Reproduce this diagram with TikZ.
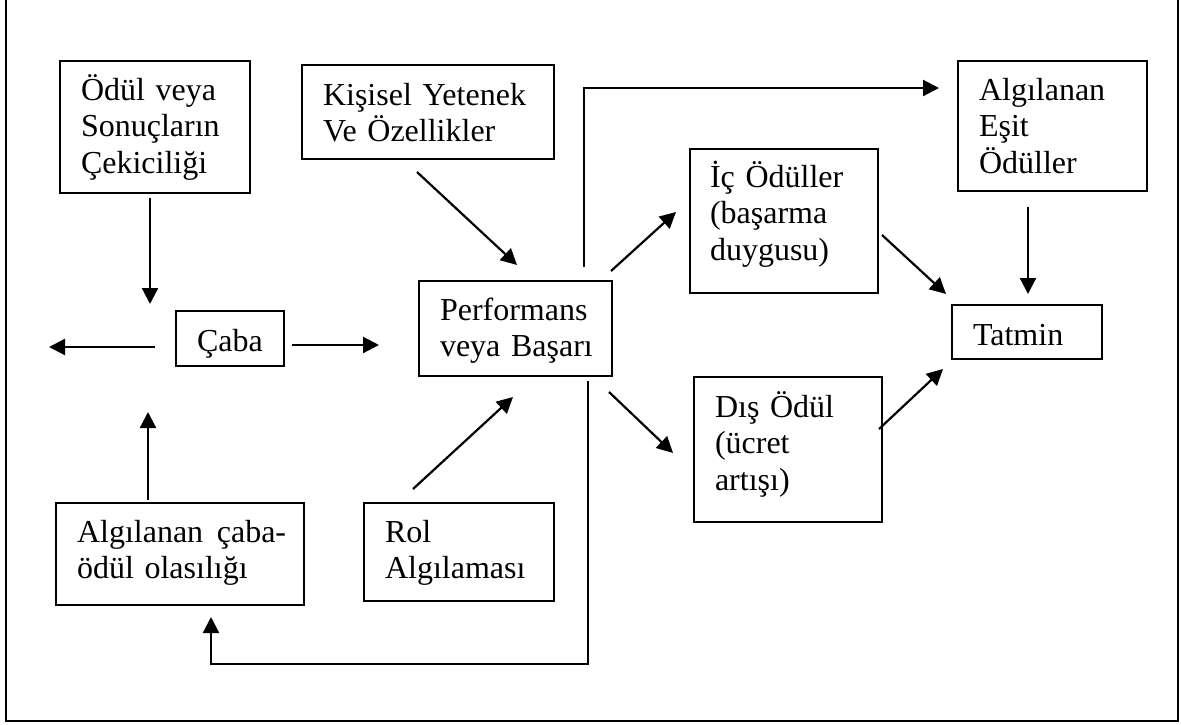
\documentclass[tikz,border=0pt]{standalone}
\usepackage{fontspec}
\setmainfont{Liberation Serif}
\usetikzlibrary{arrows.meta,calc}
\newcommand\bodyfont{\fontsize{32}{36.8}\selectfont}

\tikzset{
  box/.style={draw, line width=1.6pt, anchor=north west, align=left,
              inner ysep=0pt, inner xsep=21pt, outer sep=0pt, font=\bodyfont},
  arr/.style={line width=2.2pt, -{Triangle[length=16pt,width=16pt]}},
  frame/.style={line width=1.8pt}
}

\begin{document}
\begin{tikzpicture}[x=1pt,y=-1pt]
  \useasboundingbox (0,0) rectangle (1181,724);

  % outer frame (open at the top)
  \draw[frame] (6,0) -- (6,721) -- (1178,721) -- (1178,0);

  % boxes: text height = top edge to first baseline, text depth = first baseline to bottom edge
  \node[box, text width=148pt, text height=39pt, text depth=93pt]  (odul)    at (60,61)   {Ödül~veya\\Sonuçların\\Çekiciliği};
  \node[box, text width=210pt, text height=40pt, text depth=54pt]  (kisisel) at (302,65)  {Kişisel~Yetenek\\Ve~Özellikler};
  \node[box, text width=147pt, text height=39pt, text depth=91pt]  (esit)    at (958,61)  {Algılanan\\Eşit\\Ödüller};
  \node[box, text width=148pt, text height=38pt, text depth=106pt, inner xsep=20pt] (ic) at (690,149) {İç~Ödüller\\(başarma\\duygusu)};
  \node[box, text width=66pt,  text height=40pt, text depth=15pt]  (caba)    at (176,311) {Çaba};
  \node[box, text width=151pt, text height=39pt, text depth=56pt]  (perf)    at (419,281) {Performans\\veya~Başarı};
  \node[box, text width=108pt, text height=40pt, text depth=14pt]  (tatmin)  at (952,305) {Tatmin};
  \node[box, text width=146pt, text height=40pt, text depth=105pt] (dis)     at (694,377) {Dış~Ödül\\(ücret\\artışı)};
  \node[box, text width=206pt, text height=39pt, text depth=63pt]  (algcaba) at (56,503)  {\mbox{Algılanan\kern3pt\ çaba-}\\ödül~olasılığı};
  \node[box, text width=148pt, text height=39pt, text depth=59pt]  (rol)     at (364,503) {Rol\\Algılaması};

  % junction left of Çaba
  \coordinate (hub)   at ($(caba.west)+(-26,8.5)$);
  \coordinate (exitL) at ($(hub)+(-101,0)$);

  % into and out of the junction
  \draw[arr] ($(odul.south)+(-5,5)$) -- ($(hub)+(0,-43)$);
  \draw[arr] ($(algcaba.north)+(-32,-3)$) -- ($(hub)+(-2,65)$);
  \draw[arr] ($(hub)+(5,0)$) -- (exitL);

  % Çaba to performance
  \draw[arr] ($(caba.east)+(8,6.5)$) -- ($(perf.west)+(-40,16.5)$);

  % inputs to performance
  \draw[arr] ($(kisisel.south)+(-11,13)$) -- ($(perf.north)+(1.5,-16)$);
  \draw[arr] ($(rol.north)+(-46,-14)$) -- ($(perf.south)+(-2.5,21)$);

  % performance to rewards
  \draw[arr] ($(perf.north east)+(-1,-10)$) -- ($(ic.west)+(-14,-9)$);
  \draw[arr] ($(perf.south east)+(-3,16)$) -- ($(dis.west)+(-21,3.5)$);

  % rewards to satisfaction
  \draw[arr] ($(ic.east)+(4,14)$) -- ($(tatmin.north west)+(-6,-11)$);
  \draw[arr] ($(dis.east)+(-3,-20.5)$) -- ($(tatmin.south west)+(-9,10)$);
  \coordinate (eqs) at ($(esit.south)+(-24.5,16)$);
  \draw[arr, shorten >=11pt] (eqs) -- (eqs |- tatmin.north);

  % performance to perceived equitable rewards
  \coordinate (ptop) at ($(perf.north)+(68.5,-14)$);
  \draw[arr] (ptop) |- ($(esit.north west)+(-19,27)$);

  % feedback to perceived effort-reward probability
  \coordinate (pbot) at ($(perf.south)+(72.5,5)$);
  \coordinate (fbk)  at ($(pbot)+(0,283)$);
  \draw[arr] (pbot) -- (fbk) -| ($(algcaba.south)+(31,12)$);
\end{tikzpicture}
\end{document}
